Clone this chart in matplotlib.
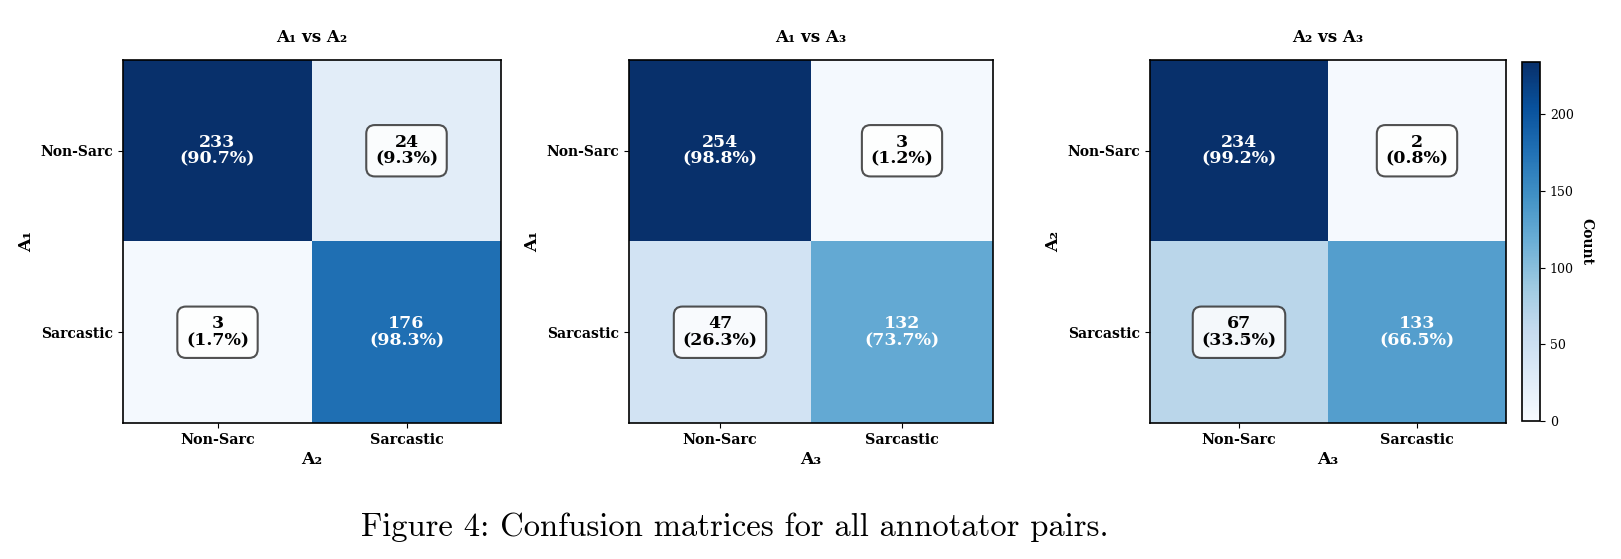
import matplotlib
matplotlib.use("Agg")
import matplotlib.pyplot as plt
import numpy as np

labels = ["Non-Sarc", "Sarcastic"]
titles = ["A\u2081 vs A\u2082", "A\u2081 vs A\u2083", "A\u2082 vs A\u2083"]
ylabels = ["A\u2081", "A\u2081", "A\u2082"]
xlabels = ["A\u2082", "A\u2083", "A\u2083"]
m12 = [[233, 24], [3, 176]]
m13 = [[254, 3], [47, 132]]
m23 = [[234, 2], [67, 133]]
matrices = [m12, m13, m23]
caption = "Figure 4: Confusion matrices for all annotator pairs."

W, H = 1621, 559
fig = plt.figure(figsize=(W / 100, H / 100), dpi=100)

# axes boxes in pixels: left, right, top, bottom
boxes = [(123, 501, 60, 423), (629, 993, 60, 423), (1150, 1506, 60, 423)]
serif = "DejaVu Serif"

for i, (mat, box) in enumerate(zip(matrices, boxes)):
    l, r, t, b = box
    ax = fig.add_axes([l / W, 1 - b / H, (r - l) / W, (b - t) / H])
    arr = np.array(mat, dtype=float)
    vmax = arr.max()
    im = ax.imshow(arr, cmap="Blues", vmin=0, vmax=vmax, aspect="auto")
    rows = arr.sum(axis=1, keepdims=True)
    pct = arr / rows * 100
    for yy in range(2):
        for xx in range(2):
            v = arr[yy, xx]
            txt = f"{int(v)}\n({pct[yy, xx]:.1f}%)"
            if v > vmax / 2:
                ax.text(xx, yy, txt, ha="center", va="center", color="white",
                        fontsize=12.5, fontweight="bold", family=serif, linespacing=1.0)
            else:
                ax.text(xx, yy, txt, ha="center", va="center", color="black",
                        fontsize=12.5, fontweight="bold", family=serif, linespacing=1.0,
                        bbox=dict(boxstyle="round,pad=0.5", facecolor="white", alpha=0.85,
                                  edgecolor="#333333", linewidth=1.5))
    ax.set_xticks([0, 1])
    ax.set_yticks([0, 1])
    ax.set_xticklabels(labels, fontsize=10.3, fontweight="bold", family=serif)
    ax.set_yticklabels(labels, fontsize=10, fontweight="bold", family=serif)
    ax.set_xlabel(xlabels[i], fontsize=12.5, fontweight="bold", family=serif, labelpad=3)
    ax.set_ylabel(ylabels[i], fontsize=12.5, fontweight="bold", family=serif, labelpad=4)
    ax.set_title(titles[i], fontsize=12, fontweight="bold", family=serif, pad=13)
    for s in ax.spines.values():
        s.set_linewidth(1.2)
    ax.tick_params(length=3.5, width=0.8)
    if i == 2:
        cax = fig.add_axes([1522 / W, 1 - 421 / H, 18 / W, (421 - 62) / H])
        cb = fig.colorbar(im, cax=cax)
        cb.outline.set_linewidth(1.2)
        cb.set_ticks([0, 50, 100, 150, 200])
        cax.tick_params(labelsize=9, length=3.5)
        for tl in cax.get_yticklabels():
            tl.set_family(serif)
        cb.set_label("Count", fontsize=10, fontweight="bold", family=serif,
                     rotation=270, labelpad=14)

fig.text(735 / W, 1 - 527 / H, caption, ha="center", va="center",
         fontsize=23.5, family="cmr10")

fig.savefig("out.png", dpi=100)
